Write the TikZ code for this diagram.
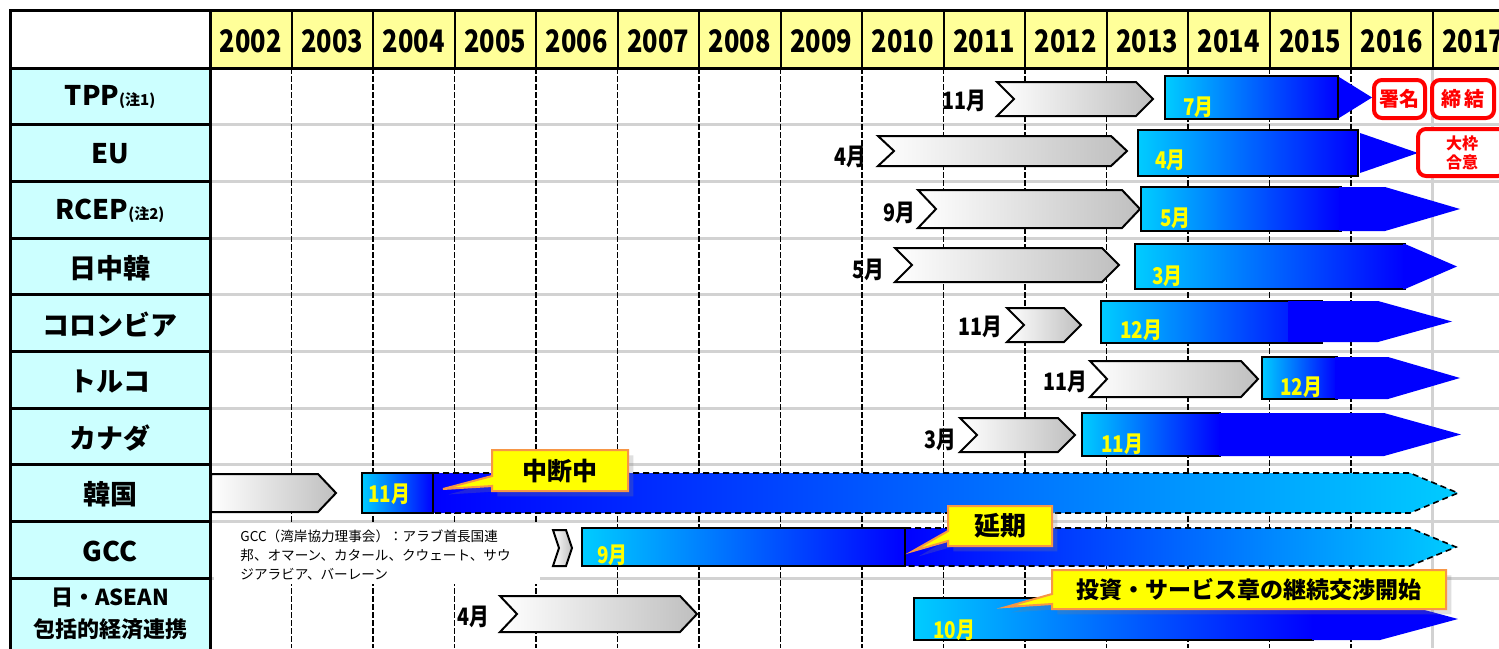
\documentclass[tikz,border=0pt]{standalone}
\usepackage{fontspec}
\setmainfont{Noto Sans CJK JP}
\newfontfamily\narrowfont[FakeStretch=0.82]{Noto Sans CJK JP}
\usetikzlibrary{shapes.callouts,shadows}

\definecolor{labelcyan}{RGB}{204,255,255}
\definecolor{headyellow}{RGB}{255,255,153}
\definecolor{gridgray}{RGB}{210,210,210}
\definecolor{barcyan}{RGB}{0,204,255}
\definecolor{barblue}{RGB}{0,0,255}
\definecolor{monthyellow}{RGB}{255,255,0}
\definecolor{noteorange}{RGB}{247,150,70}

\tikzset{
  study/.style={draw=black, line width=1pt, left color=white, right color=gray!50},
  talks/.style={draw=black, line width=1pt, left color=barcyan, right color=barblue},
  onhold/.style={draw=black, line width=0.8pt, dash pattern=on 3pt off 2pt,
    left color=barblue, middle color=barblue!75!barcyan, right color=barcyan},
  bartip/.style={fill=barblue, draw=none},
  rowlabel/.style={font=\bfseries\fontsize{13.5}{16}\selectfont, align=center},
  year/.style={font=\narrowfont\bfseries\fontsize{15.5}{16}\selectfont},
  month/.style={font=\narrowfont\bfseries\fontsize{12}{12}\selectfont, anchor=east, inner sep=0pt},
  startmonth/.style={font=\narrowfont\bfseries\fontsize{11.5}{12}\selectfont,
    text=monthyellow, anchor=base west, inner sep=0pt},
  note/.style={rectangle callout, fill=monthyellow, draw=noteorange, line width=1pt,
    callout pointer width=5pt, inner sep=0pt, drop shadow={opacity=0.25},
    font=\bfseries\fontsize{12.5}{13}\selectfont},
  result/.style={draw=red, line width=2pt, rounded corners=4pt, fill=white, text=red,
    inner sep=0pt, font=\bfseries\fontsize{10}{11}\selectfont},
}

\begin{document}
\begin{tikzpicture}[x=0.5pt, y=-0.5pt]

    \useasboundingbox (0,0) rectangle (1499,648);
    \clip (0,0) rectangle (1499,648);

    % Table background
    \fill[white] (0,0) rectangle (1499,648);
    \fill[labelcyan] (10,68) rectangle (210,660);
    \fill[headyellow] (210,10) rectangle (1499,68);

    % Row lines
    \foreach \k in {1,...,9} {
        \draw[gridgray, line width=1.5pt] (210,{68+56.7*\k}) -- (1499,{68+56.7*\k});
        \draw[line width=1.5pt] (10,{68+56.7*\k}) -- (210,{68+56.7*\k});
    }

    % Year lines
    \foreach \k in {1,...,15}
        \draw[line width=1pt] ({210+81.5*\k},10) -- ({210+81.5*\k},68);
    \foreach \k in {1,...,14}
        \draw[line width=0.8pt, dash pattern=on 3pt off 1pt] ({210+81.5*\k},68) -- ({210+81.5*\k},648);
    \draw[gridgray, line width=1.5pt] (1432.5,68) -- (1432.5,648);

    % Frame
    \draw[line width=1.5pt] (10,660) -- (10,10) -- (1499,10);
    \draw[line width=1.5pt] (10,68) -- (1499,68);
    \draw[line width=1.5pt] (210,10) -- (210,660);

    % Years
    \foreach \yr [count=\k from 0] in {2002,...,2017}
        \node[year] (y\yr) at ({250.75+81.5*\k},41) {\yr};

    % Row labels
    \node[rowlabel] (r-tpp) at (110,97) {TPP{\fontsize{7.5}{8}\selectfont(注1)}};
    \node[rowlabel] (r-eu) at (110,154) {EU};
    \node[rowlabel] (r-rcep) at (110,211) {RCEP{\fontsize{7.5}{8}\selectfont(注2)}};
    \node[rowlabel] (r-cjk) at (110,268) {日中韓};
    \node[rowlabel] (r-col) at (110,325) {コロンビア};
    \node[rowlabel] (r-tur) at (110,381) {トルコ};
    \node[rowlabel] (r-can) at (110,438) {カナダ};
    \node[rowlabel] (r-kor) at (110,494) {韓国};
    \node[rowlabel] (r-gcc) at (110,551) {GCC};
    \node[rowlabel, font=\bfseries\fontsize{11}{16}\selectfont] (r-asean) at (110,614) {日・ASEAN\\包括的経済連携};

    % GCC note
    \fill[white] (214,524) rectangle (540,584);
    \node[anchor=north west, inner sep=0pt, align=left, font=\fontsize{6.8}{9.5}\selectfont] (gcc-note) at (240,529)
        {GCC（湾岸協力理事会）：アラブ首長国連\\邦、オマーン、カタール、クウェート、サウ\\ジアラビア、バーレーン};

    % Joint studies
    \foreach \xl/\xr/\yc/\h/\d in {997/1153/99/17/17, 878/1127/151/15/16, 918/1140/209/19/18,
        895/1119/265/17/17, 1007/1081/325/17/17, 1090/1258/379/18/17, 960/1075/435/17/17,
        553/572/548/18/6, 500/697/614/18/17}
        \draw[study] (\xl,{\yc-\h}) -- ({\xr-\d},{\yc-\h}) -- (\xr,\yc) -- ({\xr-\d},{\yc+\h})
            -- (\xl,{\yc+\h}) -- ({\xl+\d},\yc) -- cycle;
    \draw[study] (211,474) -- (318,474) -- (336,493) -- (318,512) -- (211,512) -- cycle;

    \node[month] (s-tpp) at (987,101) {11月};
    \node[month] (s-eu) at (867,157) {4月};
    \node[month] (s-rcep) at (916,213) {9月};
    \node[month] (s-cjk) at (885,270) {5月};
    \node[month] (s-col) at (1003,327) {11月};
    \node[month] (s-tur) at (1088,382) {11月};
    \node[month] (s-can) at (957,440) {3月};
    \node[month] (s-asean) at (490,617) {4月};

    % Suspended talks
    \draw[onhold] (433,473) -- (1410,473) -- (1458,493) -- (1410,513) -- (433,513) -- cycle;
    \draw[onhold] (905,528) -- (1410,528) -- (1456,547) -- (1410,566) -- (905,566) -- cycle;

    % Negotiations
    \foreach \xl/\yt/\xr/\yb in {1165/76/1338/119, 1138/130/1358/176, 1141/187/1341/231,
        1135/244/1405/289, 1101/301/1322/343, 1262/357/1337/399, 1082/413/1220/456,
        362/473/433/513, 582/528/905/566, 914/598/1313/640}
        \draw[talks] (\xl,\yt) rectangle (\xr,\yb);

    \foreach \xs/\xsh/\xt/\yt/\yb in {1339/1339/1372/77/118, 1360/1360/1418/133/173,
        1339/1385/1460/187/231, 1403/1405/1457/244/289, 1288/1378/1452/301/342,
        1335/1388/1460/357/399, 1219/1384/1461/413/456, 1312/1380/1458/598/640}
        \fill[bartip] (\xs,\yt) -- (\xsh,\yt) -- (\xt,{(\yt+\yb)/2}) -- (\xsh,\yb) -- (\xs,\yb) -- cycle;

    \node[startmonth] (n-tpp) at (1183,115) {7月};
    \node[startmonth] (n-eu) at (1155,168) {4月};
    \node[startmonth] (n-rcep) at (1160,226) {5月};
    \node[startmonth] (n-cjk) at (1152,284) {3月};
    \node[startmonth] (n-col) at (1120,338) {12月};
    \node[startmonth] (n-tur) at (1280,395) {12月};
    \node[startmonth] (n-can) at (1101,452) {11月};
    \node[startmonth] (n-kor) at (368,502) {11月};
    \node[startmonth] (n-gcc) at (597,563) {9月};
    \node[startmonth] (n-asean) at (933,638) {10月};

    % Callouts
    \coordinate (p-kor) at (443,489);
    \coordinate (p-gcc) at (913,551);
    \coordinate (p-asean) at (1006,607);
    \node[note, minimum width=68pt, minimum height=20.5pt, callout absolute pointer={(p-kor)}] (c-kor) at (560,470.5) {中断中};
    \node[note, minimum width=52pt, minimum height=20pt, callout absolute pointer={(p-gcc)},
        font=\bfseries\fontsize{13}{14}\selectfont] (c-gcc) at (1000,526) {延期};
    \node[note, minimum width=197pt, minimum height=19.5pt, callout absolute pointer={(p-asean)},
        font=\bfseries\fontsize{11.5}{12}\selectfont] (c-asean) at (1249,589.5) {投資・サービス章の継続交渉開始};

    % Results
    \node[result, minimum width=25.5pt, minimum height=19pt] (sign) at (1399.5,99) {署名};
    \node[result, minimum width=31pt, minimum height=19pt] (conclude) at (1463,99) {締\,結};
    \node[result, minimum width=44pt, minimum height=23.5pt, align=center,
        font=\bfseries\fontsize{8}{9.5}\selectfont] (agree) at (1462,152.5) {大枠\\合意};

\end{tikzpicture}
\end{document}
